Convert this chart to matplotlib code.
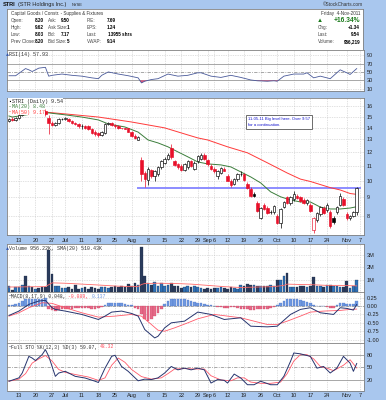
import numpy as np
import pandas as pd
import matplotlib
matplotlib.use('Agg')
import matplotlib.pyplot as plt

plt.rcParams['font.family'] = ['Liberation Sans', 'DejaVu Sans']
MONO = ['Liberation Mono', 'DejaVu Sans Mono']

# ------------------------------------------------------------------ data
hol = pd.to_datetime(['2011-07-04', '2011-09-05'])
all_days = pd.bdate_range('2011-06-08', '2011-11-09')
all_days = all_days[~all_days.isin(hol)]
dates = all_days[all_days <= '2011-11-04']

opens = [14.6, 14.8, 14.7, 14.9, 15.2, 15.7, 15.6, 16.0, 15.8, 15.9,
         15.7, 15.5, 14.9, 14.4, 14.2, 14.4, 14.8, 14.8, 14.8, 14.6,
         14.4, 14.3, 14.1, 14.15, 14.1, 13.9, 13.6, 13.5, 13.35, 13.5,
         14.3, 14.4, 14.25, 14.1, 13.95, 13.95, 13.95, 13.6, 13.3, 12.95,
         11.4, 10.5, 10.05, 10.7, 10.3, 10.4, 10.9, 11.2, 11.5, 12.3,
         11.3, 11.1, 11.0, 10.7, 10.9, 11.3, 10.8, 11.3, 11.5, 11.8,
         11.4, 11.0, 10.8, 10.3, 10.5, 10.8, 10.3, 10.0, 9.8, 10.1,
         10.4, 10.4, 9.8, 9.5, 9.2, 8.7, 7.9, 8.6, 8.4, 8.2,
         8.2, 8.0, 7.65, 8.45, 9.0, 8.7, 8.9, 9.1, 9.0, 8.85,
         8.7, 8.6, 7.3, 7.8, 8.1, 8.4, 8.3, 8.2, 7.9, 8.2,
         8.6, 8.9, 8.1, 7.9, 8.0, 8.20]
highs = [14.9, 15.0, 15.0, 15.3, 15.8, 16.0, 16.2, 16.3, 16.0, 16.1,
         15.9, 15.7, 15.2, 14.6, 14.5, 14.9, 14.9, 14.95, 14.85, 14.7,
         14.5, 14.4, 14.3, 14.2, 14.2, 14.0, 13.8, 13.6, 13.7, 14.4,
         14.5, 14.5, 14.35, 14.2, 14.0, 14.0, 14.0, 13.7, 13.4, 13.3,
         11.6, 10.6, 10.9, 10.8, 10.7, 11.0, 11.4, 11.6, 11.9, 12.6,
         11.4, 11.2, 11.1, 11.2, 11.4, 11.4, 11.3, 11.8, 11.9, 11.9,
         11.5, 11.1, 10.9, 10.7, 10.9, 10.9, 10.4, 10.1, 10.2, 10.5,
         10.6, 10.5, 9.9, 9.6, 9.3, 8.8, 8.45, 8.7, 8.5, 8.3,
         8.55, 8.1, 8.4, 8.8, 9.1, 9.05, 9.35, 9.2, 9.1, 8.95,
         8.9, 8.7, 7.95, 8.2, 8.5, 8.5, 8.7, 8.3, 8.0, 8.5,
         9.25, 9.0, 8.2, 8.05, 8.25, 9.62]
lows = [14.5, 14.6, 14.6, 14.8, 15.1, 15.4, 15.5, 15.7, 15.5, 15.6,
        15.3, 15.1, 13.4, 14.1, 14.1, 14.3, 14.7, 14.7, 14.5, 14.3,
        14.2, 14.0, 13.9, 13.9, 13.8, 13.4, 13.3, 13.2, 13.3, 13.4,
        14.2, 14.15, 14.0, 13.9, 13.9, 13.85, 13.6, 13.2, 13.0, 12.9,
        10.0, 9.6, 9.7, 10.2, 10.0, 10.3, 10.8, 11.1, 11.4, 11.5,
        11.0, 10.8, 10.6, 10.6, 10.8, 10.9, 10.7, 11.2, 11.4, 11.4,
        11.0, 10.7, 10.5, 10.1, 10.4, 10.6, 9.95, 9.6, 9.7, 10.0,
        10.3, 10.0, 9.5, 9.0, 9.0, 8.2, 7.85, 8.3, 8.1, 8.1,
        8.1, 7.6, 7.4, 8.4, 8.65, 8.6, 8.8, 8.9, 8.75, 8.65,
        8.6, 8.2, 7.2, 7.7, 8.0, 8.1, 8.2, 7.4, 7.6, 8.1,
        8.5, 8.5, 7.8, 7.8, 7.95, 8.03]
closes = [14.8, 14.7, 14.9, 15.2, 15.7, 15.6, 16.0, 15.8, 15.9, 15.7,
          15.5, 15.3, 14.4, 14.2, 14.4, 14.8, 14.8, 14.85, 14.6, 14.4,
          14.3, 14.1, 14.15, 14.0, 13.9, 13.5, 13.4, 13.35, 13.6, 14.3,
          14.4, 14.25, 14.1, 14.0, 13.95, 13.9, 13.65, 13.3, 13.1, 13.2,
          10.4, 10.1, 10.8, 10.3, 10.6, 10.9, 11.3, 11.5, 11.8, 11.6,
          11.05, 10.9, 10.7, 11.1, 11.3, 11.0, 11.2, 11.7, 11.8, 11.5,
          11.1, 10.75, 10.6, 10.6, 10.85, 10.65, 10.0, 9.75, 10.1, 10.4,
          10.45, 10.05, 9.55, 9.1, 9.1, 8.25, 8.4, 8.35, 8.15, 8.2,
          8.5, 7.65, 8.35, 8.75, 8.7, 9.0, 9.2, 8.95, 8.8, 8.7,
          8.85, 8.25, 7.9, 8.15, 8.45, 8.15, 8.6, 7.5, 7.7, 8.45,
          9.1, 8.55, 7.9, 8.0, 8.2, 9.54]
volumes_m = [0.47, 0.2, 0.42, 0.42, 0.6, 1.3, 0.47, 0.42, 0.26, 0.34,
             0.4, 0.4, 3.37, 1.45, 0.53, 0.47, 0.34, 0.32, 0.42, 0.29,
             0.6, 0.29, 0.32, 0.42, 0.29, 0.4, 0.34, 0.26, 0.42, 0.4,
             0.34, 0.42, 0.53, 0.42, 0.53, 0.42, 0.68, 0.53, 0.74, 0.6,
             3.58, 1.26, 0.74, 0.6, 0.79, 0.47, 0.74, 0.53, 0.6, 0.74,
             0.53, 0.47, 0.34, 0.42, 0.47, 0.42, 0.47, 0.4, 0.34, 0.29,
             0.32, 0.26, 0.32, 0.37, 0.4, 0.34, 0.29, 0.4, 0.32, 0.26,
             0.6, 0.47, 0.68, 0.6, 0.6, 0.47, 0.47, 0.47, 0.53, 0.6,
             0.47, 0.95, 0.95, 1.26, 1.53, 0.42, 0.4, 0.42, 0.47, 0.47,
             0.4, 0.47, 1.21, 0.47, 0.53, 0.4, 0.6, 0.6, 0.53, 0.47,
             0.42, 0.4, 0.87, 0.34, 0.47, 0.956]

# indicator lines at these trading-day indices
ma20_idx = [0, 1, 7, 12, 17, 22, 27, 30, 35, 39, 42, 45, 48, 51, 54, 57, 60, 64,
            67, 70, 73, 76, 79, 82, 85, 88, 91, 94, 97, 100, 103, 105]
ma20_val = [15.06, 14.96, 15.26, 15.36, 15.17, 14.96, 14.69, 14.32, 14.05, 13.6,
            12.94, 12.7, 12.39, 12.0, 11.63, 11.26, 11.12, 11.05, 10.91, 10.57,
            10.24, 9.86, 9.32, 9.03, 8.85, 8.74, 8.74, 8.46, 8.36, 8.36, 8.41, 8.48]
ma50_idx = [0, 7, 17, 27, 37, 47, 54, 57, 60, 66, 72, 78, 84, 88, 91, 97, 100, 103, 105]
ma50_val = [15.85, 15.55, 15.26, 14.96, 14.5, 13.97, 13.36, 13.11, 12.94, 12.39,
            11.93, 11.2, 10.5, 10.1, 9.95, 9.57, 9.43, 9.22, 9.17]
level = 9.57

rsi_idx = [0, 2, 5, 6, 7, 9, 11, 12, 13, 16, 19, 22, 25, 27, 28, 30, 33, 36, 39,
           40, 41, 43, 45, 48, 51, 54, 57, 58, 61, 64, 67, 70, 73, 75, 78, 80, 81,
           83, 86, 89, 90, 92, 94, 97, 100, 102, 103, 105]
rsi_val = [41, 41, 58, 55, 51, 59, 61, 40, 42, 45, 42, 40, 36, 34, 42, 50, 45, 41, 36,
           24, 28, 32, 34, 45, 40, 42, 48, 48, 40, 37, 42, 37, 31, 29, 28, 29, 28,
           40, 45, 45, 48, 36, 40, 34, 55, 48, 44, 57.93]

vsma_idx = [0, 11, 12, 13, 17, 22, 27, 32, 37, 39, 40, 41, 45, 50, 55, 60, 65, 70,
            75, 80, 83, 84, 88, 92, 96, 100, 105]
vsma_val = [0.42, 0.45, 0.6, 0.75, 0.72, 0.65, 0.58, 0.5, 0.45, 0.46, 0.62, 0.7,
            0.72, 0.7, 0.65, 0.55, 0.45, 0.38, 0.42, 0.45, 0.55, 0.65, 0.62, 0.6,
            0.55, 0.55, 0.51]

macd_idx = [0, 3, 6, 9, 11, 13, 14, 17, 22, 27, 29, 31, 34, 37, 39, 41, 44, 45, 47,
            49, 53, 57, 61, 65, 70, 73, 78, 81, 85, 88, 91, 94, 98, 100, 102, 104, 105]
macd_val = [-0.28, -0.15, 0.05, 0.15, 0.17, -0.05, -0.1, -0.15, -0.25, -0.4, -0.3,
            -0.18, -0.15, -0.22, -0.3, -0.7, -0.95, -0.9, -0.65, -0.5, -0.45, -0.18,
            -0.25, -0.4, -0.35, -0.6, -0.62, -0.6, -0.25, -0.1, -0.05, -0.2, -0.25,
            -0.05, -0.07, -0.12, 0.048]
sig_idx = [0, 3, 6, 10, 13, 17, 22, 27, 32, 37, 40, 43, 45, 47, 50, 54, 57, 62, 66,
           70, 74, 78, 81, 84, 88, 91, 95, 100, 103, 105]
sig_val = [-0.3, -0.2, -0.05, 0.1, 0.08, -0.05, -0.2, -0.33, -0.3, -0.25, -0.3,
           -0.55, -0.72, -0.75, -0.65, -0.5, -0.38, -0.25, -0.3, -0.35, -0.45, -0.55,
           -0.55, -0.45, -0.3, -0.18, -0.15, -0.13, -0.1, -0.089]
hist_val = [0.02, 0.03, 0.05, 0.10, 0.15, 0.2, 0.22, 0.2, 0.22, 0.2,
            0.22, 0.25, -0.1, -0.13, -0.15, -0.12, -0.1, -0.1, -0.08, -0.08,
            -0.07, -0.06, -0.06, -0.06, -0.07, -0.08, -0.08, -0.07, -0.03, 0.02,
            0.08, 0.1, 0.1, 0.08, 0.08, 0.06, 0.03, 0.02, -0.05, -0.1,
            -0.25, -0.38, -0.45, -0.4, -0.3, -0.2, -0.1, 0.05, 0.15, 0.22,
            0.22, 0.2, 0.2, 0.2, 0.18, 0.15, 0.12, 0.1, 0.08, 0.06,
            0.04, 0.02, 0.0, -0.02, -0.04, -0.05, -0.06, -0.03, -0.02, -0.05,
            -0.08, -0.08, -0.1, -0.12, -0.12, -0.1, -0.1, -0.1, -0.08, -0.06,
            -0.04, 0.02, 0.08, 0.15, 0.2, 0.22, 0.22, 0.2, 0.18, 0.15,
            0.12, 0.1, 0.04, 0.0, 0.0, 0.0, -0.04, -0.06, -0.05, 0.02,
            0.1, 0.08, 0.05, 0.05, 0.05, 0.137]

stok_idx = [0, 3, 4, 6, 7, 8, 10, 11, 12, 14, 15, 17, 20, 23, 26, 27, 29, 31, 32,
            34, 36, 39, 41, 43, 45, 47, 49, 51, 53, 55, 57, 59, 61, 63, 65, 66, 68,
            70, 72, 74, 76, 79, 81, 83, 85, 86, 88, 91, 93, 95, 97, 99, 101, 103,
            104, 105]
stok_val = [17, 25, 36.5, 76, 72, 66, 80, 92, 76, 28.6, 36.5, 40.5, 28.6, 24.6, 17,
            14, 48, 76, 78.6, 52, 40.5, 18, 22, 21, 25, 36.5, 52, 44, 48, 44, 48, 44,
            12.7, 21, 19, 12.7, 34, 24.6, 8.7, 8.7, 17, 8.7, 8.7, 28.6, 64, 84, 82,
            76, 48, 52, 36.5, 48, 76, 60, 40.5, 59.07]
stod_idx = [0, 3, 5, 7, 9, 11, 13, 15, 17, 20, 24, 27, 29, 31, 33, 35, 37, 40, 43,
            46, 48, 50, 53, 56, 59, 61, 64, 67, 69, 71, 73, 76, 79, 82, 84, 86, 88,
            90, 92, 94, 96, 98, 101, 103, 105]
stod_val = [17, 22, 35, 60, 70, 78, 65, 45, 38, 33, 27, 19, 25, 55, 72, 62, 45, 28,
            22, 25, 35, 46, 47, 46, 46, 30, 20, 18, 25, 25, 15, 12, 12, 15, 35, 65,
            80, 80, 70, 52, 48, 42, 55, 68, 48.32]

tick_days = ['2011-06-13', '2011-06-20', '2011-06-27', '2011-07-01', '2011-07-11',
             '2011-07-18', '2011-07-25', '2011-08-01', '2011-08-08', '2011-08-15',
             '2011-08-22', '2011-08-29', '2011-09-01', '2011-09-06', '2011-09-12',
             '2011-09-19', '2011-09-26', '2011-10-03', '2011-10-10', '2011-10-17',
             '2011-10-24', '2011-11-01', '2011-11-07']
tick_labels = ['13', '20', '27', 'Jul', '11', '18', '25', 'Aug', '8', '15', '22',
               '29', 'Sep', '6', '12', '19', '26', 'Oct', '10', '17', '24', 'Nov', '7']

# ------------------------------------------------------------------ style
BG = '#a9c7ee'
FRAME = '#808080'
GRID = '#c4c4c4'
RED = '#e8102a'
NAVY = '#26346e'
W, H = 386, 400

n = len(dates)
x = np.arange(n)
o = np.array(opens); h = np.array(highs); l = np.array(lows); c = np.array(closes)
prev = np.r_[o[0], c[:-1]]
down = c < prev
tick_pos = [all_days.get_loc(pd.Timestamp(d)) for d in tick_days]
XLIM = (-0.6, 107.2)

fig = plt.figure(figsize=(W / 100, H / 100), dpi=100)
fig.patch.set_facecolor(BG)


def add_ax(x0, y0, x1, y1):
    return fig.add_axes([x0 / W, 1 - y1 / H, (x1 - x0) / W, (y1 - y0) / H])


def style(ax, yt, ylab, xlab=False):
    ax.set_facecolor('white')
    for s in ax.spines.values():
        s.set_color(FRAME)
        s.set_linewidth(0.6)
    ax.set_xlim(*XLIM)
    ax.set_xticks(tick_pos)
    ax.xaxis.grid(True, color=GRID, lw=0.5, ls=(0, (1, 1.5)))
    ax.set_yticks(yt)
    ax.set_yticklabels(ylab)
    ax.yaxis.grid(True, color=GRID, lw=0.5, ls=(0, (1, 1.5)))
    ax.minorticks_off()
    ax.yaxis.tick_right()
    ax.tick_params(axis='both', length=0, labelsize=4.0, pad=2, colors='#222222')
    if xlab:
        ax.set_xticklabels(tick_labels)
        ax.tick_params(axis='x', pad=2)
    else:
        ax.set_xticklabels([])
    ax.set_axisbelow(True)


def ftext(px, py, s, **kw):
    kw.setdefault('fontsize', 3.3)
    kw.setdefault('va', 'center')
    return fig.text(px / W, 1 - py / H, s, **kw)


def rainbow(px, py, parts, size=3.6, bbox=None, family=MONO):
    r = fig.canvas.get_renderer()
    for s, col in parts:
        t = ftext(px, py, s, color=col, fontsize=size, ha='left', zorder=10, family=family)
        if bbox:
            t.set_bbox(bbox)
        px += t.get_window_extent(r).width


# ------------------------------------------------------------------ header
ftext(3, 4.8, 'STRI', fontsize=4.1, fontweight='bold', color='#111111')
ftext(17.5, 4.8, '(STR Holdings Inc.)', fontsize=4.0, color='#222222')
ftext(72, 4.8, 'NYSE', fontsize=2.9, color='#222222')
ftext(363, 5, '\u00a9StockCharts.com', fontsize=3.4, color='#333333', ha='right')

info = add_ax(7, 9, 363, 50)
info.set_xticks([]); info.set_yticks([])
for s in info.spines.values():
    s.set_color(FRAME); s.set_linewidth(0.6)

rows_y = [20.7, 27.7, 34.7, 41.7]
lab1 = ['Open:', 'High:', 'Low:', 'Prev Close:']
val1 = ['8.20', '9.62', '8.03', '8.20']
lab2 = ['Ask:', 'Ask Size:', 'Bid:', 'Bid Size:']
val2 = ['9.50', '1', '7.17', '5']
lab3 = ['P/E:', 'EPS:', 'Last:', 'VWAP:']
val3 = ['7.69', '1.24', '13955 shrs', '9.14']
labr = ['', 'Chg:', 'Last:', 'Volume:']
valr = ['', '+1.34', '9.54', '956,219']
ftext(11, 14, 'Capital Goods / Constr. - Supplies & Fixtures', color='#333333', fontsize=3.3)
ftext(360, 14, 'Friday  4-Nov-2011', color='#333333', ha='right', fontsize=3.3)
for i, yy in enumerate(rows_y):
    ftext(11, yy, lab1[i], color='#444444')
    ftext(44, yy, val1[i], color='black', fontweight='bold', ha='right')
    ftext(47.5, yy, lab2[i], color='#444444')
    ftext(69.5, yy, val2[i], color='black', fontweight='bold', ha='right')
    ftext(87, yy, lab3[i], color='#444444')
    if i == 2:
        ftext(108, yy, val3[i], color='black', fontweight='bold', ha='left')
    else:
        ftext(115.5, yy, val3[i], color='black', fontweight='bold', ha='right')
    if labr[i]:
        ftext(318, yy, labr[i], color='#444444')
        ftext(360, yy, valr[i], color='black', fontweight='bold', ha='right')
ftext(320, 21, '\u25B2', color='#1a7a1a', fontsize=4.4, ha='center')
ftext(360, 21, '+16.34%', color='#1a7a1a', fontsize=4.8, fontweight='bold', ha='right')

# ------------------------------------------------------------------ RSI
ax_r = add_ax(7, 50, 364, 90.5)
style(ax_r, [90, 70, 50, 30, 10], ['90', '70', '50', '30', '10'])
ax_r.set_ylim(6, 102)
ax_r.yaxis.grid(False)
for lv, ls in [(70, '-'), (30, '-'), (50, (0, (4, 1.5, 1, 1.5)))]:
    ax_r.axhline(lv, color='#999999', lw=0.6, ls=ls, zorder=1)
for lv in [90, 10]:
    ax_r.axhline(lv, color=GRID, lw=0.5, ls=(0, (1, 1.5)), zorder=1)
ri = np.array(rsi_idx); rv = np.array(rsi_val, dtype=float)
ax_r.fill_between(ri, rv, 30, where=rv < 30, interpolate=True, color='#e0507a', lw=0, zorder=2)
ax_r.fill_between(ri, rv, 70, where=rv > 70, interpolate=True, color='#6a8fe0', lw=0, zorder=2)
ax_r.plot(ri, rv, color='#4a5a9a', lw=0.6, zorder=3)
rainbow(6, 54.5, [('\u25B2', '#3355aa'), ('RSI(14) 57.93', '#333333')], size=3.6)

# ------------------------------------------------------------------ price
ax_p = add_ax(7, 97.7, 364, 235)
ax_p.set_yscale('log')
ax_p.set_ylim(7.09, 16.91)
pt = [16, 15, 14, 13, 12, 11, 10, 9, 8]
style(ax_p, pt, [str(v) for v in pt], xlab=True)
ax_p.axhline(level, xmin=(39 - XLIM[0]) / (XLIM[1] - XLIM[0]), xmax=(106 - XLIM[0]) / (XLIM[1] - XLIM[0]),
             color='#8c8cff', lw=1.4, zorder=2)
ax_p.plot(ma50_idx, ma50_val, color='#ff3a3a', lw=0.7, zorder=3)
ax_p.plot(ma20_idx, ma20_val, color='#3b7d3b', lw=0.7, zorder=3)
cols = np.where(down, RED, 'black')
faces = np.where(c >= o, 'white', cols)
ax_p.vlines(x, l, h, colors=cols, lw=0.5, zorder=4)
body_lo = np.minimum(o, c)
body_h = np.maximum(np.abs(c - o), 0.0001)
ax_p.bar(x, body_h, bottom=body_lo, width=0.75, color=faces, edgecolor=cols,
         linewidth=0.45, zorder=5)
wb = dict(facecolor='white', edgecolor='none', pad=0.5)
rainbow(8.5, 101.5, [('\u25AA', 'black'), ('STRI (Daily) 9.54', '#222222')], size=3.6, bbox=wb)
rainbow(8.5, 106.8, [('\u2014', '#3b7d3b'), ('MA(20) 8.48', '#3b7d3b')], size=3.6, bbox=wb)
rainbow(8.5, 112.1, [('\u2014', '#ff3a3a'), ('MA(50) 9.17', '#ff3a3a')], size=3.6, bbox=wb)
ax_p.text(72.2, 14.95, '11-05-11 Big level here. Over 9.57\nfor a continuation.',
          fontsize=3.0, color='#1010cc', ha='left', va='top', linespacing=1.6, zorder=8,
          bbox=dict(facecolor='white', edgecolor='#555555', lw=0.6, pad=1.3))

# ------------------------------------------------------------------ volume
ax_v = add_ax(7, 244.5, 364, 292.3)
style(ax_v, [3, 2, 1], ['3M', '2M', '1M'])
ax_v.set_ylim(0, 3.8)
vcols = np.where(down, '#2a3b5c', '#2f72b8')
ax_v.bar(x, volumes_m, width=0.8, color=vcols, edgecolor='#1c2a44', linewidth=0.2, zorder=3)
ax_v.plot(vsma_idx, vsma_val, color='#ff6a6a', lw=0.6, zorder=4)
rainbow(6, 248.5, [('\u25B2', '#3355aa'), ('Volume 956.22K, SMA(20) 510.43K', '#333333')], size=3.6)

# ------------------------------------------------------------------ MACD
ax_m = add_ax(7, 292.3, 364, 343.3)
mt = [0.25, 0.0, -0.25, -0.5, -0.75, -1.0]
style(ax_m, mt, ['0.25', '0.00', '-0.25', '-0.50', '-0.75', '-1.00'])
ax_m.set_ylim(-1.11, 0.41)
hv = np.array(hist_val)
ax_m.bar(x, hv, width=0.78, color=np.where(hv >= 0, '#6f98e0', '#e66a88'),
         edgecolor=np.where(hv >= 0, '#4a70c0', '#c8405f'), linewidth=0.2, zorder=3)
ax_m.axhline(0, color='#888888', lw=0.5, ls=(0, (4, 1.5, 1, 1.5)), zorder=2)
ax_m.plot(sig_idx, sig_val, color='#ff5a6a', lw=0.6, zorder=4)
ax_m.plot(macd_idx, macd_val, color=NAVY, lw=0.7, zorder=5)
rainbow(8, 296.3, [('\u2014', NAVY), ('MACD(8,17,9) 0.048, ', '#333333'),
                   ('-0.089, ', '#ff4a5a'), ('0.137', '#6f98e0')], size=3.4)

# ------------------------------------------------------------------ STO
ax_s = add_ax(7, 343.3, 364, 390.5)
style(ax_s, [80, 50, 20], ['80', '50', '20'], xlab=True)
ax_s.set_ylim(-5, 107)
ax_s.yaxis.grid(False)
for lv, ls in [(80, '-'), (20, '-'), (50, (0, (4, 1.5, 1, 1.5)))]:
    ax_s.axhline(lv, color='#999999', lw=0.6, ls=ls, zorder=1)
ax_s.plot(stod_idx, stod_val, color='#ff5a6a', lw=0.6, zorder=3)
ax_s.plot(stok_idx, stok_val, color=NAVY, lw=0.7, zorder=4)
rainbow(8, 347, [('\u2014', NAVY), ('Full STO %K(12,3) %D(3) 59.07, ', '#333333'),
                 ('48.32', '#ff4a5a')], size=3.4)

fig.savefig('out.png', dpi=100, facecolor=BG)
